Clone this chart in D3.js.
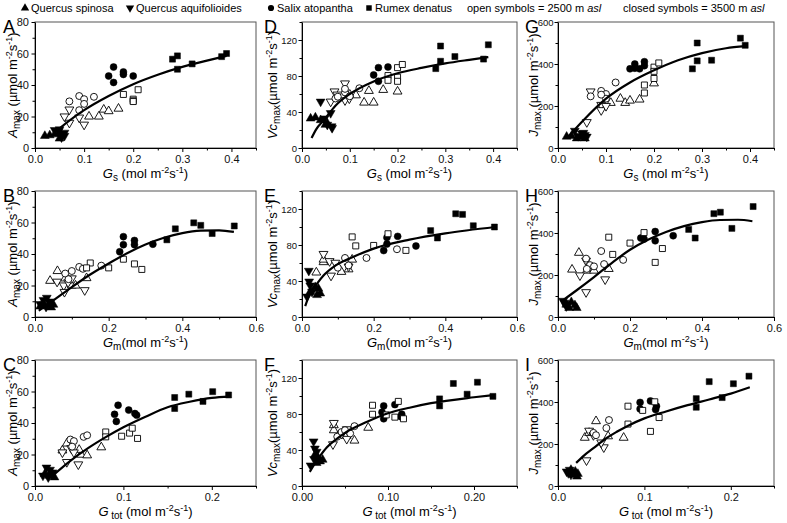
<!DOCTYPE html>
<html>
<head>
<meta charset="utf-8">
<script src="https://cdn.jsdelivr.net/npm/d3@7"></script>
<style>
body { margin: 0; background: #fff; }
svg { font-family: "Liberation Sans", Arial, sans-serif; }
</style>
</head>
<body>
<div class="chart"></div>
<script>
// Species and altitude categories (open = 2500 m, closed = 3500 m)
var speciesCodes = ["Qs", "Qa", "Sa", "Rd"];
var speciesNames = ["Quercus spinosa", "Quercus aquifolioides", "Salix atopantha", "Rumex denatus"];
var altitudes = [2500, 3500];

// Axis ticks
var gsTicks = [0, 0.1, 0.2, 0.3, 0.4];
var gmTicks = [0, 0.2, 0.4, 0.6];
var gtotTicks = [0, 0.1, 0.2];
var amaxTicks = [0, 20, 40, 60, 80];
var vcmaxTicks = [0, 40, 80, 120];
var jmaxTicks = [0, 200, 400, 600];

// Panel A: Amax vs Gs
var gsAmax = [
  ["Qs", 3500, [[0.02, 7.7], [0.03, 8.1], [0.04, 8.7], [0.05, 9.3], [0.05, 6]]],
  ["Qa", 3500, [[0.04, 11.4], [0.048, 10.7], [0.054, 6.7], [0.06, 9.7], [0.05, 11.8], [0.06, 7.7]]],
  ["Qs", 2500, [[0.11, 20], [0.13, 20], [0.14, 24.4], [0.15, 23.4], [0.17, 25]]],
  ["Qa", 2500, [[0.06, 20], [0.07, 24.4], [0.07, 16], [0.09, 19.3], [0.1, 14.8]]],
  ["Sa", 2500, [[0.07, 29.6], [0.09, 33], [0.1, 31], [0.1, 28], [0.12, 32.5], [0.09, 24]]],
  ["Sa", 3500, [[0.15, 45.7], [0.16, 51.4], [0.16, 41.6], [0.18, 48.3], [0.18, 46.7], [0.2, 45.7]]],
  ["Rd", 2500, [[0.18, 34], [0.21, 37], [0.2, 31], [0.2, 30], [0.2, 29.5]]],
  ["Rd", 3500, [[0.28, 56.4], [0.29, 58.5], [0.29, 50], [0.32, 53.4], [0.38, 58], [0.39, 60]]]
];
var fitGsAmax = [[0.04, 10], [0.05, 12.5], [0.1, 24], [0.15, 33], [0.2, 40.5], [0.25, 46.5], [0.3, 51.5], [0.35, 55.5], [0.39, 58.5]];

// Panel B: Amax vs Gm
var gmAmax = [
  ["Qs", 3500, [[0.014, 6.7], [0.023, 8.8], [0.037, 7.8], [0.044, 6.1], [0.05, 7.8]]],
  ["Qa", 3500, [[0.014, 8.2], [0.023, 10.8], [0.032, 12.2], [0.041, 9.8], [0.03, 6.5]]],
  ["Qs", 2500, [[0.061, 29.2], [0.041, 23], [0.082, 24.5], [0.1, 20], [0.11, 20], [0.14, 24.7]]],
  ["Qa", 2500, [[0.06, 22.4], [0.078, 20], [0.08, 15.9], [0.09, 22], [0.1, 24.5], [0.135, 17]]],
  ["Sa", 2500, [[0.082, 27.6], [0.1, 29.2], [0.12, 31.8], [0.13, 30.6], [0.18, 32.6], [0.091, 24]]],
  ["Sa", 3500, [[0.23, 41.4], [0.24, 45.9], [0.24, 51], [0.27, 48.6], [0.27, 45.9], [0.32, 46.2]]],
  ["Rd", 2500, [[0.15, 34.3], [0.2, 31.2], [0.24, 36.7], [0.27, 33.7], [0.29, 30.2], [0.14, 31.2]]],
  ["Rd", 3500, [[0.358, 49], [0.381, 56], [0.431, 59.8], [0.45, 58.2], [0.481, 53], [0.541, 57.8]]]
];
var fitGmAmax = [[0.01, 4], [0.05, 10.5], [0.1, 19], [0.15, 27], [0.2, 34], [0.25, 40.5], [0.3, 46], [0.35, 50.3], [0.4, 53.3], [0.45, 54.8], [0.5, 55], [0.54, 54]];

// Panel C: Amax vs Gtot
var gtotAmax = [
  ["Qs", 3500, [[0.011, 7.6], [0.016, 6.6], [0.019, 7.6], [0.022, 5.5], [0.017, 8.5]]],
  ["Qa", 3500, [[0.013, 11.7], [0.017, 10.3], [0.009, 6.6], [0.02, 8.6], [0.015, 5.5]]],
  ["Qs", 2500, [[0.031, 22.6], [0.036, 27], [0.052, 19.9], [0.059, 19.5], [0.075, 24.6], [0.05, 23]]],
  ["Qa", 2500, [[0.031, 21.3], [0.036, 15.2], [0.049, 13.7], [0.041, 24], [0.044, 21.3]]],
  ["Sa", 2500, [[0.04, 29.5], [0.044, 28.5], [0.055, 31.2], [0.059, 32.2], [0.042, 25]]],
  ["Sa", 3500, [[0.09, 45.5], [0.094, 51.3], [0.092, 41], [0.106, 48.2], [0.113, 46], [0.115, 45]]],
  ["Rd", 2500, [[0.08, 34.3], [0.08, 31.2], [0.098, 31.6], [0.107, 33.6], [0.11, 36.7], [0.116, 30.2]]],
  ["Rd", 3500, [[0.158, 49.2], [0.158, 56.2], [0.174, 58.3], [0.19, 53.7], [0.201, 59.9], [0.219, 57.8]]]
];
var fitGtotAmax = [[0.02, 6.6], [0.04, 16], [0.06, 24], [0.08, 31], [0.1, 37.3], [0.125, 44], [0.15, 50], [0.175, 53.5], [0.2, 56], [0.22, 56.8]];

// Panel D: Vcmax vs Gs
var gsVcmax = [
  ["Qs", 3500, [[0.018, 32.8], [0.028, 33.9], [0.039, 31], [0.049, 25.8], [0.053, 27.5]]],
  ["Qa", 3500, [[0.039, 51.5], [0.06, 38.8], [0.053, 25.8], [0.063, 22.2], [0.047, 32.8], [0.062, 24]]],
  ["Qs", 2500, [[0.1, 59.3], [0.13, 50.5], [0.14, 63.5], [0.15, 50.5], [0.17, 64.6], [0.2, 62.8], [0.113, 58.6]]],
  ["Qa", 2500, [[0.06, 51.5], [0.068, 62.8], [0.09, 71.7], [0.09, 53], [0.099, 55], [0.074, 59.3]]],
  ["Sa", 2500, [[0.07, 55], [0.09, 61.8], [0.09, 65.7], [0.1, 57.5], [0.12, 66.4], [0.075, 57]]],
  ["Sa", 3500, [[0.15, 81.2], [0.16, 89.3], [0.16, 74.1], [0.18, 90]]],
  ["Rd", 2500, [[0.2, 89.3], [0.21, 92.8], [0.18, 80.5], [0.18, 75.2], [0.2, 78.7], [0.2, 74.1]]],
  ["Rd", 3500, [[0.29, 113.3], [0.29, 96.4], [0.28, 88.2], [0.32, 101.6], [0.38, 98.8], [0.39, 114.7]]]
];
var fitGsVcmax = [[0.02, 11], [0.03, 21], [0.046, 31], [0.07, 47], [0.1, 60], [0.15, 74], [0.2, 83], [0.25, 89], [0.3, 94], [0.35, 98], [0.39, 101]];

// Panel E: Vcmax vs Gm
var gmVcmax = [
  ["Qs", 3500, [[0.023, 28], [0.037, 33.3], [0.046, 31.5], [0.051, 26.2], [0.042, 24.4]]],
  ["Qa", 3500, [[0.019, 51.3], [0.02, 39.4], [0.014, 22.6], [0.028, 28], [0.023, 35]]],
  ["Qs", 2500, [[0.06, 61], [0.06, 63.8], [0.04, 49.5], [0.11, 50.2], [0.14, 63.8], [0.13, 53]]],
  ["Qa", 2500, [[0.06, 70], [0.077, 62], [0.081, 45.9], [0.093, 60.2], [0.13, 56]]],
  ["Sa", 2500, [[0.12, 65.6], [0.18, 65.6], [0.265, 75.3], [0.1, 54.8], [0.13, 57.3]]],
  ["Sa", 3500, [[0.228, 73.8], [0.237, 81], [0.237, 88.2], [0.267, 89.6], [0.318, 78.9]]],
  ["Rd", 2500, [[0.14, 89], [0.15, 79], [0.2, 79.5], [0.24, 92.5], [0.29, 74]]],
  ["Rd", 3500, [[0.359, 96], [0.378, 87.8], [0.429, 114.7], [0.448, 114], [0.478, 101.4], [0.537, 100]]]
];
var fitGmVcmax = [[0.009, 12], [0.02, 24], [0.042, 37], [0.06, 46], [0.093, 57], [0.15, 68], [0.2, 76], [0.3, 86], [0.4, 93], [0.54, 100]];

// Panel F: Vcmax vs Gtot
var gtotVcmax = [
  ["Qs", 3500, [[0.015, 34.5], [0.021, 27.4], [0.024, 29.2], [0.017, 25.6], [0.019, 31]]],
  ["Qa", 3500, [[0.0135, 49.5], [0.015, 41.6], [0.01, 22.8], [0.017, 38], [0.014, 30]]],
  ["Qs", 2500, [[0.037, 67.6], [0.037, 62], [0.052, 55.9], [0.061, 50.5], [0.077, 64.8]]],
  ["Qa", 2500, [[0.037, 70], [0.036, 46.3], [0.052, 52.3], [0.052, 63], [0.046, 58]]],
  ["Sa", 2500, [[0.061, 66.5], [0.041, 54.8], [0.046, 60], [0.056, 58.4], [0.05, 62]]],
  ["Sa", 3500, [[0.093, 81.9], [0.095, 89], [0.095, 74.7], [0.108, 90.4], [0.116, 79.7], [0.115, 77]]],
  ["Rd", 2500, [[0.082, 89.7], [0.082, 79.7], [0.098, 79], [0.112, 94], [0.108, 76.5], [0.118, 74.7]]],
  ["Rd", 3500, [[0.16, 96.8], [0.16, 89], [0.176, 113.9], [0.192, 102], [0.204, 115.3], [0.222, 99.6]]]
];
var fitGtotVcmax = [[0.009, 15.7], [0.02, 32], [0.029, 43], [0.04, 52], [0.05, 59], [0.075, 71], [0.1, 80.8], [0.125, 87], [0.15, 92], [0.2, 98.6], [0.222, 101]];

// Panel G: Jmax vs Gs
var gsJmax = [
  ["Qs", 3500, [[0.018, 54], [0.028, 57], [0.039, 46], [0.05, 51], [0.056, 46]]],
  ["Qa", 3500, [[0.035, 82], [0.05, 69], [0.056, 62], [0.042, 57], [0.053, 72], [0.06, 54]]],
  ["Qs", 2500, [[0.11, 215], [0.13, 235], [0.14, 215], [0.15, 226], [0.17, 231], [0.2, 308]]],
  ["Qa", 2500, [[0.068, 269], [0.09, 205], [0.09, 180], [0.1, 200], [0.06, 123]]],
  ["Sa", 2500, [[0.068, 246], [0.09, 272], [0.1, 257], [0.1, 235], [0.12, 312], [0.09, 254]]],
  ["Sa", 3500, [[0.15, 377], [0.16, 400], [0.16, 380], [0.18, 411], [0.18, 392], [0.17, 377]]],
  ["Rd", 2500, [[0.18, 300], [0.18, 262], [0.2, 385], [0.2, 365], [0.2, 331], [0.21, 405]]],
  ["Rd", 3500, [[0.28, 377], [0.29, 500], [0.29, 415], [0.32, 418], [0.38, 523], [0.39, 489]]]
];
var fitGsJmax = [[0.02, 50], [0.05, 125], [0.1, 235], [0.15, 312], [0.2, 370], [0.25, 418], [0.3, 452], [0.35, 475], [0.39, 485]];

// Panel H: Jmax vs Gm
var gmJmax = [
  ["Qs", 3500, [[0.023, 59], [0.037, 71], [0.047, 56], [0.052, 43], [0.031, 43]]],
  ["Qa", 3500, [[0.014, 77], [0.023, 51], [0.028, 62], [0.018, 68]]],
  ["Qs", 2500, [[0.058, 306], [0.039, 226], [0.08, 221], [0.141, 229], [0.1, 221]]],
  ["Qa", 2500, [[0.061, 198], [0.078, 268], [0.078, 118], [0.131, 179], [0.089, 241]]],
  ["Sa", 2500, [[0.12, 314], [0.181, 272], [0.128, 252], [0.078, 278], [0.089, 247], [0.1, 241], [0.08, 229]]],
  ["Sa", 3500, [[0.23, 376], [0.239, 371], [0.27, 407], [0.27, 363], [0.32, 387]]],
  ["Rd", 2500, [[0.141, 380], [0.152, 298], [0.2, 352], [0.239, 402], [0.27, 260], [0.29, 326]]],
  ["Rd", 3500, [[0.363, 417], [0.381, 376], [0.433, 492], [0.451, 499], [0.483, 422], [0.542, 526]]]
];
var fitGmJmax = [[0.014, 80], [0.05, 125], [0.1, 190], [0.15, 258], [0.2, 320], [0.25, 368], [0.3, 405], [0.35, 433], [0.4, 452], [0.45, 462], [0.5, 463], [0.54, 456]];

// Panel I: Jmax vs Gtot
var gtotJmax = [
  ["Qs", 3500, [[0.015, 77], [0.02, 69], [0.023, 58], [0.018, 54], [0.022, 45]]],
  ["Qa", 3500, [[0.01, 69], [0.0135, 77], [0.015, 54], [0.012, 61]]],
  ["Qs", 2500, [[0.044, 309], [0.031, 230], [0.036, 253], [0.058, 237], [0.076, 230]]],
  ["Qa", 2500, [[0.036, 263], [0.033, 122], [0.053, 184], [0.05, 207], [0.041, 242]]],
  ["Sa", 2500, [[0.059, 314], [0.041, 253], [0.044, 242], [0.056, 276]]],
  ["Sa", 3500, [[0.095, 367], [0.095, 398], [0.107, 405], [0.114, 380], [0.113, 364]]],
  ["Rd", 2500, [[0.081, 380], [0.081, 295], [0.107, 260], [0.112, 401], [0.117, 326], [0.098, 360]]],
  ["Rd", 3500, [[0.16, 416], [0.16, 375], [0.175, 497], [0.19, 421], [0.203, 487], [0.221, 523]]]
];
var fitGtotJmax = [[0.021, 110], [0.03, 145], [0.041, 180], [0.055, 225], [0.068, 258], [0.08, 285], [0.1, 322], [0.125, 355], [0.15, 385], [0.175, 412], [0.2, 440], [0.222, 470]];

// Layout
var svgWidth = 787, svgHeight = 523;
var colLeft = [35, 302, 558];
var colWidth = [221, 215, 216];
var rowTop = [22, 191, 360];
var plotHeight = 126;
var letterX = [3, 264, 525];
var yTitleOffset = [-18, -25, -20];
var yLabelSize = [11, 9.5, 9.5];
var yLabelPad = [2.5, 1.5, 1];

var xDomains = [[0, 0.45], [0, 0.6], [0, 0.25]];
var xMajor = [gsTicks, gmTicks, gtotTicks];
var xMinor = [[0.05, 0.15, 0.25, 0.35, 0.45], [0.1, 0.3, 0.5], [0.05, 0.15, 0.25]];
var yDomains = [[0, 80], [0, 140], [0, 600]];
var yMajor = [amaxTicks, vcmaxTicks, jmaxTicks];
var yMinor = [[10, 30, 50, 70], [20, 60, 100, 140], [100, 300, 500]];

// rich-text labels: "i" italic, "b" subscript, "p" superscript
var unitsTail = [["-2", "p"], ["s", ""], ["-1", "p"], [")", ""]];
var xTitles = [
  [["G", "i"], ["s", "b"], [" (mol m", ""]].concat(unitsTail),
  [["G", "i"], ["m", "b"], ["(mol m", ""]].concat(unitsTail),
  [["G", "i"], [" tot", "b"], [" (mol m", ""]].concat(unitsTail)
];
var yTitles = [
  [["A", "i"], ["max", "b"], [" (\u00b5mol m", ""]].concat(unitsTail),
  [["Vc", "i"], ["max", "b"], ["(\u00b5mol m", ""]].concat(unitsTail),
  [["J", "i"], ["max", "b"], [" (\u00b5mol m", ""]].concat(unitsTail)
];

var panels = [
  {letter: "A", row: 0, col: 0, data: gsAmax, fit: fitGsAmax},
  {letter: "B", row: 1, col: 0, data: gmAmax, fit: fitGmAmax},
  {letter: "C", row: 2, col: 0, data: gtotAmax, fit: fitGtotAmax},
  {letter: "D", row: 0, col: 1, data: gsVcmax, fit: fitGsVcmax},
  {letter: "E", row: 1, col: 1, data: gmVcmax, fit: fitGmVcmax},
  {letter: "F", row: 2, col: 1, data: gtotVcmax, fit: fitGtotVcmax, fmt: ".2f"},
  {letter: "G", row: 0, col: 2, data: gsJmax, fit: fitGsJmax},
  {letter: "H", row: 1, col: 2, data: gmJmax, fit: fitGmJmax},
  {letter: "I", row: 2, col: 2, data: gtotJmax, fit: fitGtotJmax}
];

var symbolType = {Qs: d3.symbolTriangle, Qa: d3.symbolTriangle, Sa: d3.symbolCircle, Rd: d3.symbolSquare};
var symbolSize = {Qs: 34, Qa: 34, Sa: 38, Rd: 36};
var symbolRotate = {Qs: 0, Qa: 180, Sa: 0, Rd: 0};

var svg = d3.select(".chart")
            .append("svg")
            .attr("width", svgWidth)
            .attr("height", svgHeight);

function richText(textSel, parts, fs) {
  var cur = 0;
  parts.forEach(function(p) {
    var st = p[1];
    var shift = st === "b" ? fs * 0.2 : st === "p" ? -fs * 0.4 : 0;
    var t = textSel.append("tspan").text(p[0]).attr("dy", shift - cur);
    if (st === "b") t.attr("font-size", 10);
    if (st === "p") t.attr("font-size", 9);
    if (st === "i") t.attr("font-style", "italic");
    cur = shift;
  });
}

function styleAxis(g, fs) {
  g.selectAll("path").attr("stroke", "#000").attr("stroke-width", 1);
  g.selectAll("line").attr("stroke", "#000").attr("stroke-width", 1);
  g.selectAll("text").attr("font-size", fs || 11).attr("fill", "#111")
   .attr("font-family", "Liberation Sans, Arial, sans-serif");
}

panels.forEach(function(p) {
  var w = colWidth[p.col], h = plotHeight;
  var g = svg.append("g").attr("transform", `translate(${colLeft[p.col]}, ${rowTop[p.row]})`);

  var x = d3.scaleLinear().domain(xDomains[p.row]).range([0, w]);
  var y = d3.scaleLinear().domain(yDomains[p.col]).range([h, 0]);

  // frame
  g.append("rect").attr("width", w).attr("height", h)
   .attr("fill", "none").attr("stroke", "#555").attr("stroke-width", 1);

  // minor ticks
  g.append("g").attr("transform", `translate(0, ${h})`)
   .call(d3.axisBottom(x).tickValues(xMinor[p.row]).tickSize(2.5).tickSizeOuter(0).tickFormat(""))
   .call(styleAxis).select(".domain").remove();
  g.append("g")
   .call(d3.axisLeft(y).tickValues(yMinor[p.col]).tickSize(2.5).tickSizeOuter(0).tickFormat(""))
   .call(styleAxis).select(".domain").remove();

  // major axes
  g.append("g").attr("transform", `translate(0, ${h})`)
   .call(d3.axisBottom(x).tickValues(xMajor[p.row]).tickSize(4).tickSizeOuter(0).tickPadding(3)
           .tickFormat(d3.format(p.fmt || ".1f")))
   .call(styleAxis, 11);
  g.append("g")
   .call(d3.axisLeft(y).tickValues(yMajor[p.col]).tickSize(3.5).tickSizeOuter(0).tickPadding(yLabelPad[p.col])
           .tickFormat(d3.format("d")))
   .call(styleAxis, yLabelSize[p.col]);

  // points
  p.data.forEach(function(grp) {
    var code = grp[0], open = grp[1] === altitudes[0];
    g.selectAll(null)
     .data(grp[2])
     .enter()
     .append("path")
     .attr("d", d3.symbol().type(symbolType[code]).size(symbolSize[code]))
     .attr("transform", d => `translate(${x(d[0])}, ${y(d[1])}) rotate(${symbolRotate[code]})`)
     .attr("fill", open ? "#fff" : "#000")
     .attr("stroke", "#000")
     .attr("stroke-width", open ? 0.9 : 0.5);
  });

  // fitted curve
  g.append("path")
   .datum(p.fit)
   .attr("d", d3.line().x(d => x(d[0])).y(d => y(d[1])).curve(d3.curveMonotoneX))
   .attr("fill", "none")
   .attr("stroke", "#000")
   .attr("stroke-width", 2.2);

  // axis titles
  var xt = g.append("text")
            .attr("transform", `translate(${w / 2}, ${h + 30})`)
            .attr("text-anchor", "middle")
            .attr("font-size", 13);
  richText(xt, xTitles[p.row], 13);

  var yt = g.append("text")
            .attr("transform", `translate(${yTitleOffset[p.col]}, ${h / 2}) rotate(-90)`)
            .attr("text-anchor", "middle")
            .attr("font-size", 13);
  richText(yt, yTitles[p.col], 13);

  // panel letter
  svg.append("text")
     .attr("x", letterX[p.col])
     .attr("y", rowTop[p.row] + 11)
     .attr("font-size", 18)
     .text(p.letter);
});

// Legend
var legendSymX = [25, 130, 271, 369];
var legend = svg.append("g");
speciesCodes.forEach(function(code, i) {
  legend.append("path")
        .attr("d", d3.symbol().type(symbolType[code]).size(30))
        .attr("transform", `translate(${legendSymX[i]}, 8) rotate(${symbolRotate[code]})`)
        .attr("fill", "#000");
  legend.append("text")
        .attr("x", legendSymX[i] + 6)
        .attr("y", 12)
        .attr("font-size", 11)
        .text(speciesNames[i]);
});
var altText = [["open symbols = " + altitudes[0] + " m ", 467], ["closed symbols = " + altitudes[1] + " m ", 623]];
altText.forEach(function(a) {
  var t = legend.append("text").attr("x", a[1]).attr("y", 12).attr("font-size", 11);
  t.append("tspan").text(a[0]);
  t.append("tspan").attr("font-style", "italic").text("asl");
});
</script>
</body>
</html>
